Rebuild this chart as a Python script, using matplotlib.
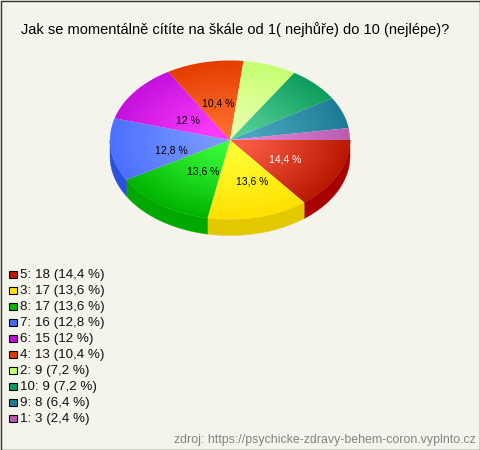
import numpy as np
import matplotlib
matplotlib.use("Agg")
import matplotlib.pyplot as plt
from matplotlib.colors import LinearSegmentedColormap, to_rgb
from matplotlib.patches import Rectangle

plt.rcParams['font.family'] = ['Liberation Sans', 'DejaVu Sans']

TITLE = "Jak se momentálně cítíte na škále od 1( nejhůře) do 10 (nejlépe)?"
SOURCE = "zdroj: https://psychicke-zdravy-behem-coron.vyplnto.cz"
names = ["5", "3", "8", "7", "6", "4", "2", "10", "9", "1"]
counts = [18, 17, 17, 16, 15, 13, 9, 9, 8, 3]
pct_text = ["14,4", "13,6", "13,6", "12,8", "12", "10,4", "7,2", "7,2", "6,4", "2,4"]
show_label = [True, True, True, True, True, True, False, False, False, False]
label_col = ["white", "black", "black", "black", "black", "black", "black", "black", "black", "black"]
edge_cols = ["#B81800", "#FFE000", "#00B400", "#4C70FF", "#C410DC", "#E43C00", "#C4FF70", "#0C9C5C", "#1C7C94", "#B85CB0"]
center_cols = ["#FF6048", "#FFFF38", "#3CFF3C", "#7C9CFF", "#FF40FF", "#FF7030", "#ECFFB0", "#58D49C", "#50AAC4", "#E888E0"]
side_cols = ["#A80000", "#E3C800", "#00A800", "#2A50DC", "#9000A0", "#B03000", "#A0D050", "#087040", "#105868", "#905090"]
swatch_cols = ["#B81800", "#FFE000", "#00B800", "#4468F8", "#C010D8", "#E03C00", "#C4FF70", "#0C9C5C", "#1C7C94", "#B85CB0"]

BG = "#F5F4EC"
W, H = 480, 450
fig = plt.figure(figsize=(W/100, H/100), dpi=100, facecolor=BG)
ax = fig.add_axes([0, 0, 1, 1])
ax.set_xlim(0, W)
ax.set_ylim(H, 0)
ax.axis("off")

cx, cy, rx, ry, depth = 230, 140, 120, 79.5, 16
total = sum(counts)
bounds = np.cumsum([0] + counts) / total * 2 * np.pi
a0, a1 = bounds[:-1], bounds[1:]

# label placement tweaks, pixels
nudge_x = [3, 9, 6, -2, 4, 0, 0, 0, 0, 0]
nudge_y = [3, 4, 0, 6, 4, 1, 0, 0, 0, 0]

# side walls (screen y grows downwards, slices run clockwise on screen)
for s, e, c in zip(a0, a1, side_cols):
    s2, e2 = max(s, 0), min(e, np.pi)
    if s2 >= e2:
        continue
    t = np.linspace(s2, e2, 80)
    x = cx + rx*np.cos(t)
    y = cy + ry*np.sin(t)
    ax.fill(np.r_[x, x[::-1]], np.r_[y, y[::-1] + depth], color=c, lw=0.3, zorder=2)

# top wedges with a radial gradient
n = 400
xx, yy = np.meshgrid(np.linspace(-1, 1, n), np.linspace(-1, 1, n))
rr = np.clip(np.hypot(xx, yy), 0, 1) ** 1.2
for s, e, c0, c1 in zip(a0, a1, center_cols, edge_cols):
    cmap = LinearSegmentedColormap.from_list("g", [to_rgb(c0), to_rgb(c1)])
    im = ax.imshow(rr, cmap=cmap, vmin=0, vmax=1, extent=(cx-rx, cx+rx, cy+ry, cy-ry),
                   aspect="auto", zorder=3, interpolation="bilinear")
    t = np.linspace(s, e, 120)
    poly = plt.Polygon(np.c_[np.r_[cx, cx + rx*np.cos(t)], np.r_[cy, cy + ry*np.sin(t)]],
                       closed=True, transform=ax.transData, fc="none", ec="none")
    ax.add_patch(poly)
    im.set_clip_path(poly)
ax.set_xlim(0, W)
ax.set_ylim(H, 0)

# value labels
for s, e, show, txt, col, nx, ny in zip(a0, a1, show_label, pct_text, label_col, nudge_x, nudge_y):
    if not show:
        continue
    m = (s + e) / 2
    ax.text(cx + nx + 0.48*rx*np.cos(m), cy + ny + 0.48*ry*np.sin(m), f"{txt} %", color=col,
            fontsize=7.5, ha="center", va="center", zorder=5)

# title
ax.text(235, 30, TITLE, fontsize=10.55, ha="center", va="center", color="black")

# legend
for i, (nm, ct, txt, c) in enumerate(zip(names, counts, pct_text, swatch_cols)):
    y = 274 + i*16
    ax.add_patch(Rectangle((9, y-3.5), 7.5, 7.5, fc=c, ec="black", lw=0.8, zorder=4))
    ax.text(20, y + 1, f"{nm}: {ct} ({txt} %)", fontsize=9.6, ha="left", va="center", color="#111111")

ax.text(476, 440, SOURCE, fontsize=8.9, ha="right", va="center", color="#848484")

# outer frame
ax.add_patch(Rectangle((0.5, 0.5), W-1, H-1, fc="none", ec="#333333", lw=1, zorder=6))

fig.savefig("out.png", dpi=100, facecolor=BG)
